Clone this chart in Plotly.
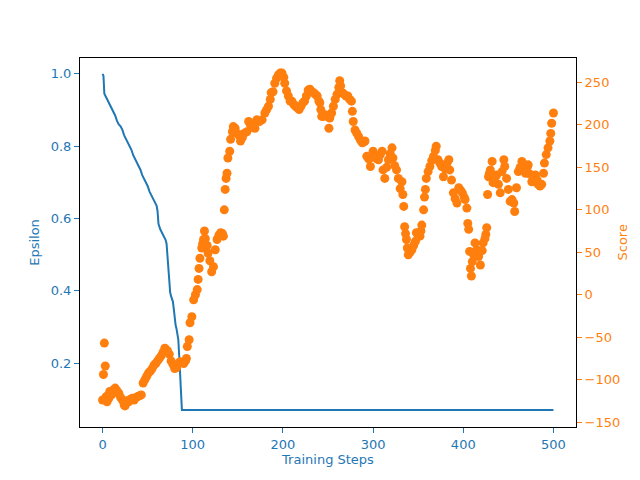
import plotly.graph_objects as go

# epsilon decay
eps_steps = [0, 1, 2, 4, 6, 8, 10, 12, 14, 16, 18, 20, 22, 24, 26, 28, 30, 32, 34, 36,
             38, 40, 42, 44, 46, 48, 50, 52, 54, 56, 58, 60, 61, 62, 64, 66, 68, 70, 71,
             72, 73, 74, 75, 76, 78, 79, 80, 81, 82, 83, 84, 85, 86, 87, 88, 500]
epsilon = [1.0, 0.995, 0.945, 0.935, 0.925, 0.915, 0.905, 0.895, 0.885, 0.87, 0.86,
           0.855, 0.845, 0.83, 0.82, 0.81, 0.80, 0.79, 0.775, 0.765, 0.755, 0.745,
           0.735, 0.72, 0.71, 0.70, 0.69, 0.675, 0.665, 0.655, 0.645, 0.635, 0.62,
           0.585, 0.57, 0.56, 0.55, 0.54, 0.53, 0.49, 0.455, 0.41, 0.395, 0.385, 0.37,
           0.35, 0.32, 0.305, 0.295, 0.275, 0.265, 0.22, 0.17, 0.12, 0.07, 0.07]

# smoothed score
score_steps = [0, 1, 2, 3, 4, 5, 7, 8, 10, 12, 14, 16, 18, 20, 22, 24, 25, 27, 29, 31,
               33, 35, 37, 39, 41, 43, 45, 47, 49, 51, 53, 55, 57, 59, 61, 63, 65, 67,
               69, 70, 72, 74, 76, 78, 80, 82, 84, 86, 88, 90, 92, 93, 94, 96, 97, 99,
               101, 103, 105, 106, 107, 108, 110, 111, 112, 113, 114, 116, 117, 119, 121,
               123, 125, 127, 129, 131, 133, 134, 135, 136, 137, 138, 139, 141, 142, 144,
               145, 147, 149, 151, 153, 155, 157, 160, 162, 164, 166, 169, 171, 174, 177,
               180, 182, 184, 186, 187, 189, 191, 193, 195, 197, 199, 201, 202, 204, 206,
               208, 210, 212, 214, 216, 218, 220, 222, 224, 226, 228, 230, 232, 234, 236,
               238, 240, 241, 242, 243, 245, 247, 249, 251, 252, 254, 256, 258, 260, 262,
               263, 264, 266, 268, 270, 272, 274, 276, 277, 278, 280, 282, 284, 286, 288,
               290, 291, 293, 295, 297, 299, 300, 302, 304, 306, 308, 310, 311, 313, 315,
               317, 319, 321, 322, 324, 326, 328, 330, 332, 333, 334, 335, 336, 337, 338,
               339, 341, 343, 345, 347, 348, 350, 352, 353, 354, 356, 357, 358, 359, 361,
               363, 365, 367, 369, 370, 372, 374, 376, 378, 380, 382, 384, 385, 387, 389,
               391, 393, 395, 397, 399, 401, 402, 404, 405, 406, 407, 408, 409, 410, 411,
               413, 415, 417, 419, 421, 422, 424, 425, 426, 427, 428, 429, 430, 432, 433,
               435, 437, 439, 441, 443, 445, 446, 448, 450, 452, 454, 456, 457, 459, 461,
               463, 465, 467, 469, 471, 472, 474, 476, 478, 480, 482, 483, 485, 487, 489,
               490, 492, 494, 496, 497, 498, 500]
score = [-124, -94, -57, -84, -120, -126, -122, -114, -118, -112, -110, -113, -116, -121,
         -124, -130, -131, -125, -126, -123, -122, -124, -121, -120, -119, -118, -104,
         -100, -96, -92, -90, -87, -83, -81, -78, -75, -72, -68, -63, -64, -66, -70, -78,
         -82, -87, -86, -81, -79, -80, -81, -78, -75, -61, -53, -33, -26, -6, 0, 6, 18,
         31, 43, 55, 60, 65, 75, 66, 58, 49, 40, 27, 33, 53, 65, 70, 73, 72, 69, 100, 124,
         137, 143, 161, 169, 183, 192, 198, 196, 190, 188, 181, 185, 190, 192, 204, 200,
         197, 196, 206, 204, 206, 214, 218, 222, 230, 238, 239, 249, 255, 259, 261, 261,
         256, 249, 240, 234, 228, 228, 224, 222, 220, 218, 222, 226, 228, 234, 241, 242,
         239, 238, 236, 234, 228, 226, 218, 210, 210, 212, 210, 196, 208, 214, 222, 230,
         236, 244, 252, 246, 238, 236, 234, 234, 230, 228, 216, 204, 194, 190, 186, 182,
         179, 180, 181, 163, 160, 151, 162, 169, 164, 160, 159, 165, 169, 147, 137, 150,
         159, 166, 173, 161, 152, 147, 137, 125, 133, 118, 104, 80, 72, 65, 55, 47, 50,
         53, 58, 63, 73, 70, 69, 75, 82, 100, 115, 124, 137, 145, 151, 158, 163, 170, 175,
         159, 155, 151, 139, 148, 155, 159, 147, 135, 120, 113, 108, 126, 123, 120, 115,
         112, 102, 84, 77, 51, 31, 22, 39, 48, 61, 53, 45, 35, 52, 61, 66, 71, 79, 118,
         139, 143, 147, 157, 132, 138, 141, 130, 120, 145, 159, 151, 137, 124, 110, 112,
         108, 98, 126, 145, 150, 157, 148, 143, 150, 153, 142, 133, 138, 141, 135, 130,
         128, 130, 143, 155, 165, 173, 181, 190, 202, 214]

x_ticks = [0, 100, 200, 300, 400, 500]
eps_ticks = [0.2, 0.4, 0.6, 0.8, 1.0]
score_ticks = [-150, -100, -50, 0, 50, 100, 150, 200, 250]

BLUE = "#1f77b4"
ORANGE = "#ff7f0e"
FONT = "DejaVu Sans"

fig = go.Figure()

fig.add_trace(go.Scatter(
    x=eps_steps, y=epsilon, mode="lines",
    line=dict(color=BLUE, width=2), yaxis="y", showlegend=False,
))

fig.add_trace(go.Scatter(
    x=score_steps, y=score, mode="markers",
    marker=dict(color=ORANGE, size=9, line=dict(width=0)),
    yaxis="y2", showlegend=False,
))

# page body has an 8px margin, so the figure is a bit smaller than the window
fig.update_layout(
    width=632, height=464,
    margin=dict(l=72, r=64, t=50, b=45, autoexpand=False),
    paper_bgcolor="white", plot_bgcolor="white",
    font=dict(family=FONT, size=13, color=BLUE),
    xaxis=dict(
        range=[-25, 525], tickvals=x_ticks, ticks="outside", ticklen=5,
        tickcolor=BLUE, showline=True, linecolor="black", linewidth=1,
        mirror=True, showgrid=False, zeroline=False, automargin=False,
        tickfont=dict(color=BLUE, size=13),
        title=dict(text="Training Steps", font=dict(color=BLUE, size=13), standoff=4),
    ),
    yaxis=dict(
        range=[0.023, 1.044], tickvals=eps_ticks, tickformat=".1f",
        ticks="outside", ticklen=5, tickcolor=BLUE,
        showline=True, linecolor="black", linewidth=1,
        showgrid=False, zeroline=False, automargin=False,
        tickfont=dict(color=BLUE, size=13),
        title=dict(text="Epsilon", font=dict(color=BLUE, size=13), standoff=8),
    ),
    yaxis2=dict(
        range=[-155.8, 278.8], tickvals=score_ticks, overlaying="y", side="right",
        ticks="outside", ticklen=5, tickcolor=ORANGE,
        showline=True, linecolor="black", linewidth=1,
        showgrid=False, zeroline=False, automargin=False,
        tickfont=dict(color=ORANGE, size=13),
    ),
)

# right axis title as an annotation so it stays inside the page edge
fig.add_annotation(
    text="Score", textangle=-90, showarrow=False,
    xref="paper", yref="paper", x=1, y=0.5,
    xanchor="center", yanchor="middle", xshift=46,
    font=dict(family=FONT, color=ORANGE, size=13),
)

fig.write_html("out.html")
